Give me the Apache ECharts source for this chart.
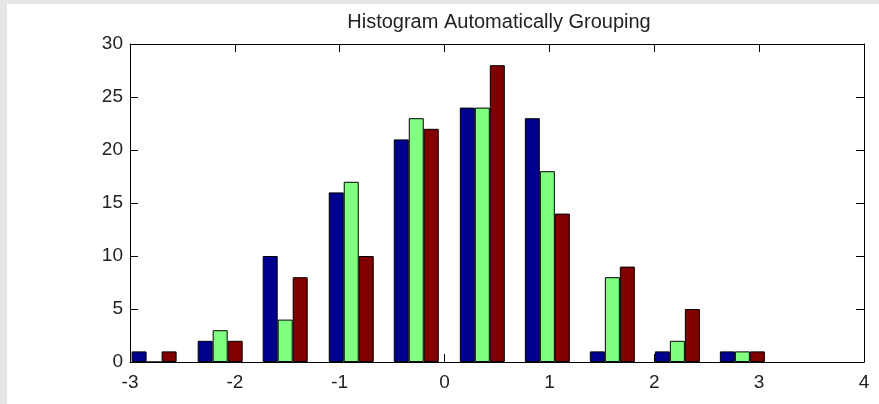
<!DOCTYPE html>
<html>
<head>
<meta charset="utf-8">
<script src="https://cdn.jsdelivr.net/npm/echarts@6/dist/echarts.min.js"></script>
<style>
html,body{margin:0;padding:0;background:#e6e6e6;width:879px;height:404px;overflow:hidden;}
#c{position:absolute;left:7px;top:4px;width:872px;height:400px;background:#fff;}
</style>
</head>
<body>
<div id="c"></div>
<script>
const binCenters = [-2.77, -2.14, -1.52, -0.89, -0.27, 0.36, 0.98, 1.60, 2.22, 2.84];
const series1 = [1, 2, 10, 16, 21, 24, 23, 1, 1, 1];
const series2 = [0, 3, 4, 17, 23, 24, 18, 8, 2, 1];
const series3 = [1, 2, 8, 10, 22, 28, 14, 9, 5, 1];
const xTicks = [-3, -2, -1, 0, 1, 2, 3, 4];
const yTicks = [0, 5, 10, 15, 20, 25, 30];

const font = "'Liberation Sans', Arial, Helvetica, sans-serif";
const chart = echarts.init(document.getElementById('c'));
const axisLine = {show: true, onZero: false, lineStyle: {color: '#000', width: 1}};
const tick = {show: true, inside: true, length: 8, lineStyle: {color: '#000', width: 1}};
function mk(vals, color) {
  return {
    type: 'bar',
    data: vals.map((v, i) => [binCenters[i], v]),
    barWidth: 15,
    barGap: '0%',
    itemStyle: {color: color, borderColor: '#000', borderWidth: 1},
    xAxisIndex: 0, yAxisIndex: 0,
    animation: false
  };
}
chart.setOption({
  animation: false,
  backgroundColor: '#fff',
  title: {
    text: 'Histogram Automatically Grouping',
    left: 487, top: 3, textAlign: 'center',
    textStyle: {fontFamily: font, fontSize: 20, fontWeight: 'normal', color: '#222'}
  },
  grid: {left: 123, right: 15, top: 40, bottom: 42},
  xAxis: [{
    type: 'value', min: -3, max: 4, interval: 1,
    axisLine: axisLine, axisTick: tick, splitLine: {show: false},
    axisLabel: {fontFamily: font, fontSize: 19, color: '#222', margin: 11,
      formatter: v => xTicks.includes(v) ? String(v) : ''}
  }, {
    type: 'value', position: 'top', min: -3, max: 4, interval: 1,
    axisLine: axisLine, axisTick: tick, splitLine: {show: false},
    axisLabel: {show: false}
  }],
  yAxis: [{
    type: 'value', min: 0, max: 30, interval: 5,
    axisLine: axisLine, axisTick: tick, splitLine: {show: false},
    axisLabel: {fontFamily: font, fontSize: 19, color: '#222', margin: 7,
      formatter: v => yTicks.includes(v) ? String(v) : ''}
  }, {
    type: 'value', position: 'right', min: 0, max: 30, interval: 5,
    axisLine: axisLine, axisTick: tick, splitLine: {show: false},
    axisLabel: {show: false}
  }],
  series: [mk(series1, '#00008f'), mk(series2, '#80ff80'), mk(series3, '#800000')]
});
</script>
</body>
</html>
